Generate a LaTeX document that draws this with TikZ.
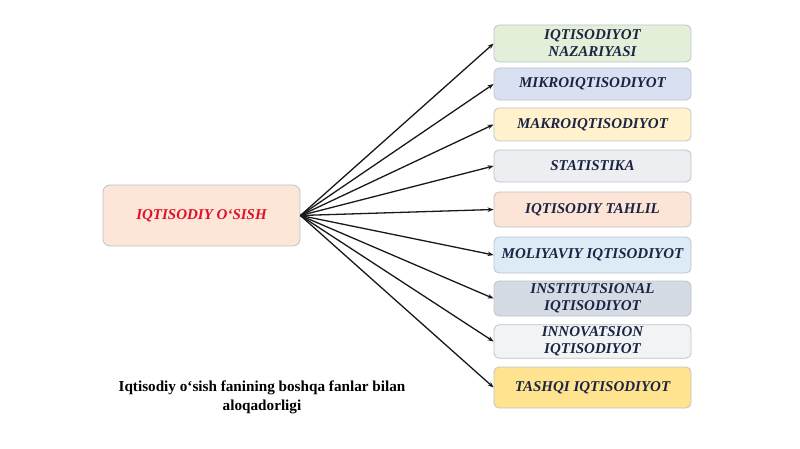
\documentclass[tikz,border=0pt]{standalone}
\usepackage{fontspec}
\setmainfont{Liberation Serif}
\usetikzlibrary{arrows.meta}
\definecolor{navytxt}{HTML}{1B2442}
\definecolor{redtxt}{HTML}{E0102A}
\definecolor{bordergray}{HTML}{BFC3C8}
\definecolor{cA}{HTML}{E3EFD9}
\definecolor{cB}{HTML}{D9E0F1}
\definecolor{cC}{HTML}{FFF2CC}
\definecolor{cD}{HTML}{ECEEF1}
\definecolor{cE}{HTML}{FCE4D6}
\definecolor{cF}{HTML}{DDEBF7}
\definecolor{cG}{HTML}{D5DBE5}
\definecolor{cH}{HTML}{F2F3F5}
\definecolor{cI}{HTML}{FFE38F}
\definecolor{cMain}{HTML}{FBE6D8}
\tikzset{
  topicbox/.style={rectangle, rounded corners=5pt, draw=bordergray, line width=0.8pt,
    minimum width=197pt, inner sep=2pt, align=center, text=navytxt,
    font=\fontsize{15}{17}\selectfont\bfseries\itshape},
  mainbox/.style={rectangle, rounded corners=7pt, draw=bordergray, line width=0.8pt,
    fill=cMain, minimum width=197pt, minimum height=61pt, text=redtxt,
    font=\fontsize{15}{17}\selectfont\bfseries\itshape},
  link/.style={-{Stealth[length=6pt,width=4.5pt]}, line width=1.3pt, draw=black!90},
  caption/.style={align=center, font=\fontsize{15.2}{19}\selectfont\bfseries, text=black}
}
\begin{document}
\begin{tikzpicture}[x=1pt,y=-1pt]
\useasboundingbox (0,0) rectangle (800,449);
\fill[white] (0,0) rectangle (800,449);
\node[mainbox] (main) at (201.5,215.5) {IQTISODIY O‘SISH};
\node[topicbox, fill=cA, minimum height=37pt] (b1) at (592.5,43.5) {IQTISODIYOT\\NAZARIYASI};
\node[topicbox, fill=cB, minimum height=32pt] (b2) at (592.5,84) {MIKROIQTISODIYOT};
\node[topicbox, fill=cC, minimum height=33pt] (b3) at (592.5,124.5) {MAKROIQTISODIYOT};
\node[topicbox, fill=cD, minimum height=32pt] (b4) at (592.5,166) {STATISTIKA};
\node[topicbox, fill=cE, minimum height=35pt] (b5) at (592.5,209.5) {IQTISODIY TAHLIL};
\node[topicbox, fill=cF, minimum height=36pt] (b6) at (592.5,255) {MOLIYAVIY IQTISODIYOT};
\node[topicbox, fill=cG, minimum height=35pt] (b7) at (592.5,298.5) {INSTITUTSIONAL\\IQTISODIYOT};
\node[topicbox, fill=cH, minimum height=33pt] (b8) at (592.5,341.5) {INNOVATSION\\IQTISODIYOT};
\node[topicbox, fill=cI, minimum height=41pt] (b9) at (592.5,387.5) {TASHQI IQTISODIYOT};
\foreach \b in {b1,b2,b3,b4,b5,b6,b7,b8,b9}{
  \draw[link] (main.east) -- (\b.west);
}
\node[caption] (cap) at (262,397.5) {Iqtisodiy o‘sish fanining boshqa fanlar bilan\\aloqadorligi};
\end{tikzpicture}
\end{document}
